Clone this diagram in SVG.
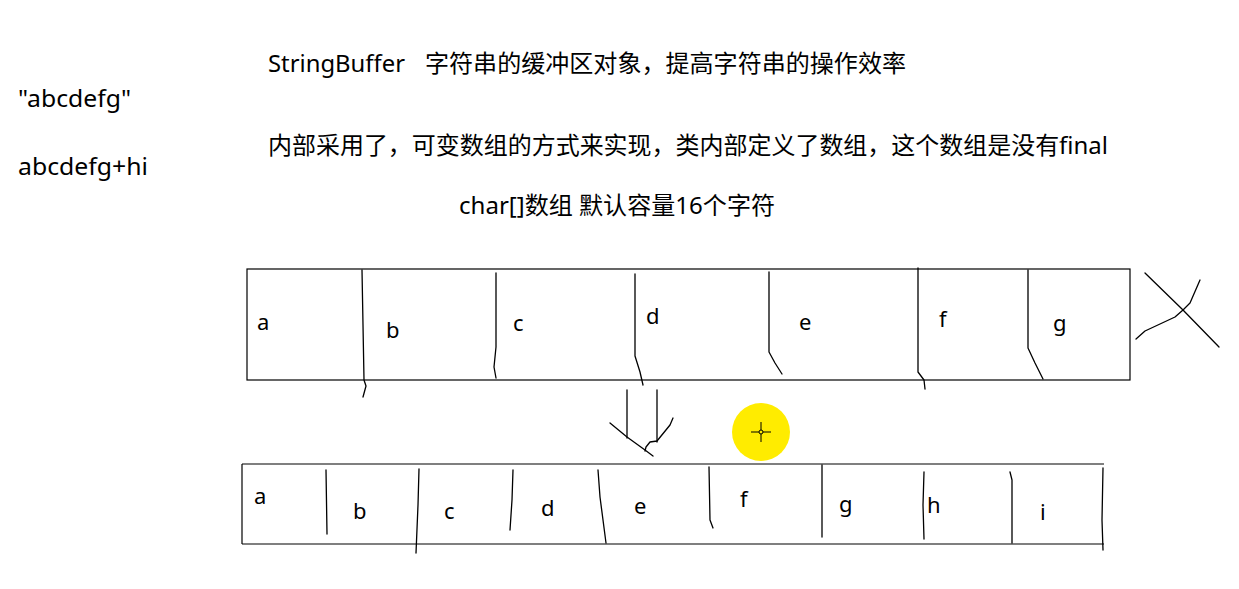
<svg xmlns="http://www.w3.org/2000/svg" width="1239" height="589" viewBox="0 0 1239 589">
<style>
.t{font-family:"Noto Sans","Noto Sans CJK SC",sans-serif;font-size:24px;fill:#000}
.c{font-family:"Noto Sans","Noto Sans CJK SC",sans-serif;font-size:22px;fill:#000}
.box{fill:none;stroke:#000;stroke-width:1.2}
.hd{fill:none;stroke:#000;stroke-width:1.3;stroke-linecap:round;stroke-linejoin:round}
</style>
<rect width="1239" height="589" fill="#fff"/>
<g id="title">
<text class="t" x="268" y="72" textLength="137" lengthAdjust="spacingAndGlyphs">StringBuffer</text>
<text class="t" x="425" y="72" textLength="481" lengthAdjust="spacingAndGlyphs">字符串的缓冲区对象，提高字符串的操作效率</text>
</g>
<g id="desc1">
<text class="t" x="268" y="154" textLength="840" lengthAdjust="spacingAndGlyphs">内部采用了，可变数组的方式来实现，类内部定义了数组，这个数组是没有final</text>
</g>
<g id="desc2">
<text class="t" x="459" y="214" textLength="316" lengthAdjust="spacingAndGlyphs">char[]数组 默认容量16个字符</text>
</g>
<g id="left-literal">
<text class="t" x="18" y="107" textLength="113" lengthAdjust="spacingAndGlyphs">"abcdefg"</text>
</g>
<g id="left-concat">
<text class="t" x="18" y="175" textLength="130" lengthAdjust="spacingAndGlyphs">abcdefg+hi</text>
</g>
<g id="array-old">
<rect class="box" x="247" y="269" width="883" height="111"/>
<path class="hd" d="M362 270 L364 380 L366 386 L363 397"/>
<path class="hd" d="M496 273 L496 347 L494 367 L496 378"/>
<path class="hd" d="M635 274 L635 356 L640 372 L643 385"/>
<path class="hd" d="M769 272 L769 352 L775 363 L782 374"/>
<path class="hd" d="M918 268 L918 372 L924 380 L925 389"/>
<path class="hd" d="M1028 270 L1028 348 L1035 363 L1043 379"/>
<text class="c" x="257" y="330">a</text>
<text class="c" x="386" y="338">b</text>
<text class="c" x="513" y="331">c</text>
<text class="c" x="646" y="324">d</text>
<text class="c" x="799" y="330">e</text>
<text class="c" x="939" y="327">f</text>
<text class="c" x="1053" y="331">g</text>
</g>
<g id="cross-mark">
<path class="hd" d="M1145 273 L1183 310 L1219 347"/>
<path class="hd" d="M1136 339 L1145 331 L1175 317 L1183 310 L1190 303 L1200 280"/>
</g>
<g id="array-new">
<line class="box" x1="242" y1="464" x2="1104" y2="464"/>
<line class="box" x1="242" y1="544" x2="1104" y2="544"/>
<line class="box" x1="242" y1="464" x2="242" y2="544"/>
<path class="hd" d="M1103 468 L1102 520 L1103 550"/>
<path class="hd" d="M326 470 L327 534"/>
<path class="hd" d="M419 469 L418 505 L416 553"/>
<path class="hd" d="M513 470 L512 500 L510 530"/>
<path class="hd" d="M598 470 L600 497 L606 543"/>
<path class="hd" d="M709 467 L710 520 L713 528"/>
<path class="hd" d="M822 465 L822 537"/>
<path class="hd" d="M924 472 L923 505 L924 539"/>
<path class="hd" d="M1010 472 L1012 480 L1012 543"/>
<text class="c" x="254" y="504">a</text>
<text class="c" x="353" y="519">b</text>
<text class="c" x="444" y="519">c</text>
<text class="c" x="541" y="516">d</text>
<text class="c" x="634" y="514">e</text>
<text class="c" x="740" y="507">f</text>
<text class="c" x="839" y="512">g</text>
<text class="c" x="927" y="513">h</text>
<text class="c" x="1040" y="520">i</text>
</g>
<g id="connectors">
<path class="hd" d="M627 390 L627 438"/>
<path class="hd" d="M657 390 L657 442"/>
<path class="hd" d="M610 423 L627 437 L645 450 L653 456"/>
<path class="hd" d="M673 418 L670 425 L657 441 L650 442 L646 447 L645 451"/>
</g>
<g id="cursor">
<circle cx="761" cy="432" r="29" fill="#ffec00"/>
<path d="M751 432 H771 M761 422 V442" stroke="#000" stroke-width="1"/>
<circle cx="761" cy="432" r="2" fill="#ffec00" stroke="#000" stroke-width="1"/>
</g>
</svg>
